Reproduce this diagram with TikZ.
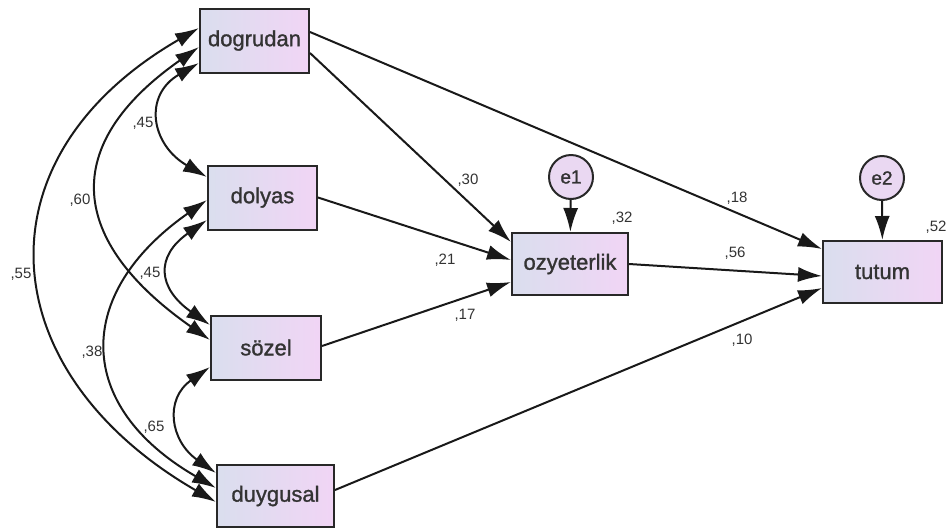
\documentclass[tikz,border=0pt]{standalone}
\usepackage{fontspec}
\setmainfont{Liberation Sans}
\newfontfamily\boxfont{Liberation Sans}[FakeBold=1.2]
\usepackage{xcolor}
\usetikzlibrary{arrows.meta, positioning}
\definecolor{boxleft}{RGB}{218,222,238}
\definecolor{boxright}{RGB}{241,213,245}
\definecolor{errfill}{RGB}{234,216,242}
\definecolor{linegray}{RGB}{40,40,40}
\tikzset{
    varbox/.style={rectangle, draw=linegray, line width=2pt, left color=boxleft, right color=boxright, minimum width=109pt, minimum height=64pt, font=\boxfont\fontsize{22}{25}\selectfont, text=black!80},
    errcircle/.style={circle, draw=linegray, line width=2pt, fill=errfill, minimum size=44pt, inner sep=0pt, font=\boxfont\fontsize{19}{22}\selectfont, text=black!80},
    regarrow/.style={-{Latex[length=24pt,width=15pt]}, line width=2pt, draw=black!90},
    covarrow/.style={{Latex[length=24pt,width=15pt]}-{Latex[length=24pt,width=15pt]}, line width=2pt, draw=black!90},
    coef/.style={font=\fontsize{15}{17}\selectfont, text=black!80, inner sep=0pt}
}

\begin{document}
\begin{tikzpicture}[x=1pt, y=-1pt]
    \useasboundingbox (0,0) rectangle (948,531);

    % observed variables
    \node (dogrudan) [varbox] at (254.5,40.5) {dogrudan};
    \node (dolyas) [varbox] at (262.5,197.5) {dolyas};
    \node (sozel) [varbox, minimum width=110pt] at (266,347.5) {sözel};
    \node (duygusal) [varbox, minimum width=117pt, minimum height=62pt] at (275.5,496) {duygusal};
    \node (ozyeterlik) [varbox, minimum width=116pt, minimum height=62pt] at (570,264) {ozyeterlik};
    \node (tutum) [varbox, minimum width=119pt, minimum height=62pt] at (882.5,272) {tutum};

    % error terms
    \node (e1) [errcircle] at (571,177) {e1};
    \node (e2) [errcircle] at (882,178) {e2};

    % regression paths
    \draw[regarrow] ([yshift=8.5pt]dogrudan.east) -- ([yshift=23pt]tutum.west);
    \draw[regarrow] ([yshift=-12.5pt]dogrudan.east) -- ([yshift=22pt]ozyeterlik.west);
    \draw[regarrow] (dolyas.east) -- ([yshift=4pt]ozyeterlik.west);
    \draw[regarrow] ([yshift=1.5pt]sozel.east) -- ([yshift=-18pt]ozyeterlik.west);
    \draw[regarrow] (ozyeterlik.east) -- ([yshift=-4pt]tutum.west);
    \draw[regarrow] ([yshift=6pt]duygusal.east) -- ([yshift=-16pt]tutum.west);
    \draw[regarrow] (e1) -- (ozyeterlik);
    \draw[regarrow] (e2) -- (tutum);

    % covariances
    \draw[covarrow] ([yshift=12.5pt]dogrudan.west) to[out=210, in=150, looseness=1.4] ([yshift=-6pt]duygusal.west);
    \draw[covarrow] ([yshift=-6.5pt]dogrudan.west) to[out=215, in=145, looseness=1.5] ([yshift=7.5pt]sozel.west);
    \draw[covarrow] ([yshift=-22.5pt]dogrudan.west) to[out=210, in=150, looseness=1.45] ([yshift=20.5pt]dolyas.west);
    \draw[covarrow] ([yshift=-2.5pt]dolyas.west) to[out=215, in=150, looseness=1.45] ([yshift=8pt]duygusal.west);
    \draw[covarrow] ([yshift=-22.5pt]dolyas.west) to[out=215, in=145, looseness=1.55] ([yshift=22.5pt]sozel.west);
    \draw[covarrow] ([yshift=-19.5pt]sozel.west) to[out=215, in=145, looseness=1.35] ([yshift=23pt]duygusal.west);

    % estimates
    \node (c45a) [coef] at (143,123) {,45};
    \node (c60) [coef] at (80,200) {,60};
    \node (c55) [coef] at (21,274) {,55};
    \node (c45b) [coef] at (150,273) {,45};
    \node (c38) [coef] at (92,352) {,38};
    \node (c65) [coef] at (154,427) {,65};
    \node (c30) [coef] at (468,180) {,30};
    \node (c21) [coef] at (445,260) {,21};
    \node (c17) [coef] at (465,315) {,17};
    \node (c32) [coef] at (622,218) {,32};
    \node (c18) [coef] at (737,198) {,18};
    \node (c56) [coef] at (735,253) {,56};
    \node (c10) [coef] at (742,340) {,10};
    \node (c52) [coef] at (936,227) {,52};
\end{tikzpicture}
\end{document}
